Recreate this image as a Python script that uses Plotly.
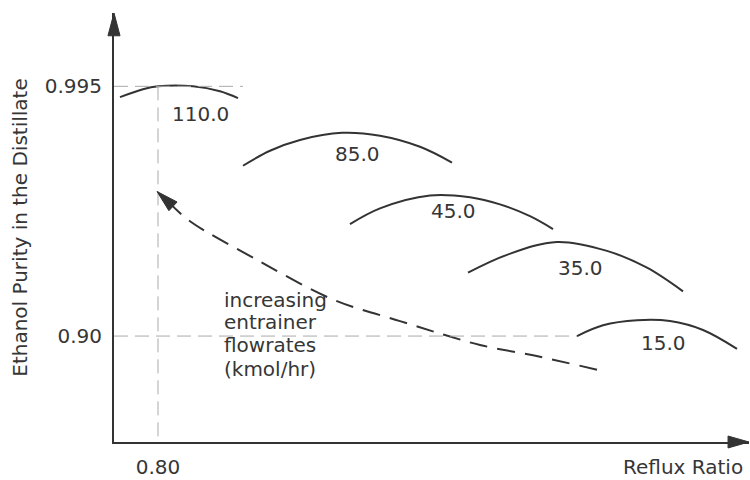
import plotly.graph_objects as go

# Distillate ethanol purity versus reflux ratio, one curve per entrainer flowrate (kmol/hr)
flowrates = ["110.0", "85.0", "45.0", "35.0", "15.0"]

reflux_110 = [0.61, 0.725, 0.80, 0.975, 1.11, 1.20]
purity_110 = [0.9909, 0.9939, 0.9950, 0.9950, 0.9931, 0.9905]

reflux_85 = [1.225, 1.36, 1.51, 1.72, 1.91, 2.11, 2.27]
purity_85 = [0.9648, 0.9705, 0.9746, 0.9773, 0.9762, 0.9720, 0.9660]

reflux_45 = [1.76, 1.91, 2.16, 2.36, 2.51, 2.66, 2.775]
purity_45 = [0.9426, 0.9486, 0.9535, 0.9528, 0.9501, 0.9456, 0.9407]

reflux_35 = [2.35, 2.545, 2.795, 3.045, 3.245, 3.425]
purity_35 = [0.9241, 0.9309, 0.9358, 0.9324, 0.9260, 0.9170]

reflux_15 = [2.895, 3.025, 3.195, 3.36, 3.525, 3.695]
purity_15 = [0.9000, 0.9041, 0.9060, 0.9057, 0.9023, 0.8951]

curves_x = [reflux_110, reflux_85, reflux_45, reflux_35, reflux_15]
curves_y = [purity_110, purity_85, purity_45, purity_35, purity_15]

# flowrate label anchors
label_x = [1.01, 1.795, 2.275, 2.91, 3.325]
label_y = [0.9844, 0.9694, 0.9475, 0.9260, 0.8974]

# trend of the optimum with increasing entrainer flowrate
trend_x = [2.995, 2.71, 2.41, 2.235, 2.01, 1.675, 1.295, 0.96, 0.86]
trend_y = [0.8872, 0.8921, 0.8966, 0.9004, 0.9057, 0.9139, 0.9290, 0.9437, 0.9505]
trend_tip = (0.795, 0.9550)
trend_base = [(0.8545, 0.9477), (0.8955, 0.9510)]

# axis ticks
x_ticks = [0.80]
x_ticktext = ["0.80"]
y_ticks = [0.90, 0.995]
y_ticktext = ["0.90", "0.995"]

x_range = [0.58, 3.755]
y_range = [0.8597, 1.0229]

note_lines = ["increasing", "entrainer", "flowrates", "(kmol/hr)"]
note_x = 1.12
note_y = [0.9139, 0.9053, 0.8966, 0.8876]

INK = "#333333"
TEXT = "#363636"
GUIDE = "#aaaaaa"
FONT = "DejaVu Sans"

fig = go.Figure()

for xs, ys in zip(curves_x, curves_y):
    fig.add_trace(go.Scatter(x=xs, y=ys, mode="lines",
                             line=dict(color=INK, width=2, shape="spline", smoothing=1.0),
                             hoverinfo="skip", showlegend=False))

fig.add_trace(go.Scatter(x=trend_x, y=trend_y, mode="lines",
                         line=dict(color=INK, width=2, dash="18px,10px", shape="spline"),
                         hoverinfo="skip", showlegend=False))

shapes = []
# guide lines at the 0.995 / 0.90 purity levels and at reflux 0.80
shapes.append(dict(type="line", xref="x", yref="y", x0=x_range[0], x1=1.225,
                   y0=y_ticks[1], y1=y_ticks[1], line=dict(color=GUIDE, width=1, dash="14px,7px")))
shapes.append(dict(type="line", xref="x", yref="y", x0=x_ticks[0], x1=x_ticks[0],
                   y0=y_ticks[1], y1=y_range[0], line=dict(color=GUIDE, width=1, dash="14px,7px")))
shapes.append(dict(type="line", xref="x", yref="y", x0=x_range[0], x1=reflux_15[0],
                   y0=y_ticks[0], y1=y_ticks[0], line=dict(color=GUIDE, width=1, dash="14px,7px")))

# arrowhead on the trend line
(tx, ty), (b1x, b1y), (b2x, b2y) = trend_tip, trend_base[0], trend_base[1]
shapes.append(dict(type="path", xref="x", yref="y",
                   path=f"M {tx},{ty} L {b1x},{b1y} L {b2x},{b2y} Z",
                   fillcolor=INK, line=dict(color=INK, width=1)))

# arrowheads at the ends of both axes
shapes.append(dict(type="path", xref="paper", yref="paper",
                   path="M 0,1 L -0.0095,0.9469 L 0.0095,0.9469 Z",
                   fillcolor=INK, line=dict(color=INK, width=1)))
shapes.append(dict(type="path", xref="paper", yref="paper",
                   path="M 1,0 L 0.967,0.0139 L 0.967,-0.0139 Z",
                   fillcolor=INK, line=dict(color=INK, width=1)))

annotations = []
for txt, lx, ly in zip(flowrates, label_x, label_y):
    annotations.append(dict(x=lx, y=ly, xref="x", yref="y", text=txt, showarrow=False,
                            font=dict(family=FONT, size=20, color=TEXT)))
for txt, ly in zip(note_lines, note_y):
    annotations.append(dict(x=note_x, y=ly, xref="x", yref="y", text=txt, showarrow=False,
                            xanchor="left", font=dict(family=FONT, size=20, color=TEXT)))
annotations.append(dict(x=3.735, y=-0.0577, xref="x", yref="paper", text="Reflux Ratio",
                        showarrow=False, xanchor="right", yanchor="middle",
                        font=dict(family=FONT, size=20, color=TEXT)))

fig.update_layout(
    width=750, height=480,
    margin=dict(l=114, r=1, t=13, b=34),
    paper_bgcolor="white", plot_bgcolor="white",
    shapes=shapes, annotations=annotations,
    font=dict(family=FONT, size=20, color=TEXT),
    xaxis=dict(range=x_range, showline=True, linecolor=INK, linewidth=2,
               showgrid=False, zeroline=False, ticks="",
               tickvals=x_ticks, ticktext=x_ticktext, ticklabelstandoff=6,
               tickfont=dict(family=FONT, size=20, color=TEXT)),
    yaxis=dict(range=y_range, showline=True, linecolor=INK, linewidth=2,
               showgrid=False, zeroline=False, ticks="",
               tickvals=y_ticks, ticktext=y_ticktext, ticklabelstandoff=6,
               tickfont=dict(family=FONT, size=20, color=TEXT),
               title=dict(text="Ethanol Purity in the Distillate", standoff=12,
                          font=dict(family=FONT, size=20, color=TEXT))),
)

fig.write_html("out.html")
